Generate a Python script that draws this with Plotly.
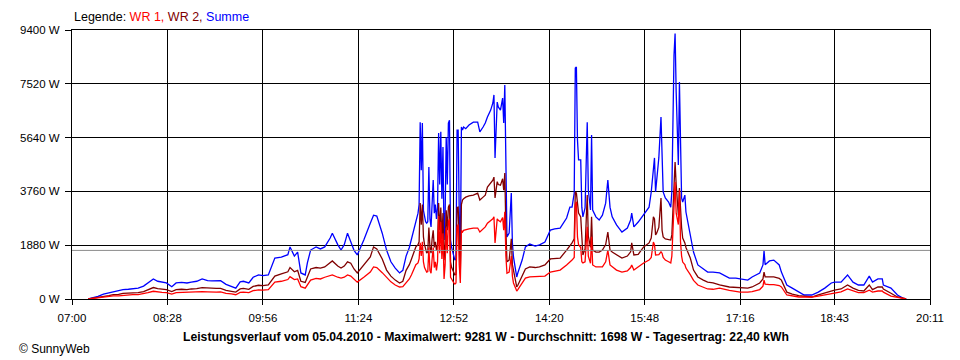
import plotly.graph_objects as go

DATE = "2010-04-05"

# ---- data ----
times = [
    "07:15","07:19","07:24","07:29","07:34","07:38","07:43","07:47","07:52","07:56",
    "08:01","08:06","08:10","08:15","08:19","08:23","08:27","08:32","08:36","08:41",
    "08:46","08:50","08:55","09:00","09:05","09:09","09:13","09:17","09:22","09:27",
    "09:31","09:35","09:38","09:43","09:47","09:52","09:56","10:01","10:07","10:13",
    "10:19","10:21","10:25","10:28","10:31","10:35","10:37","10:40","10:45","10:49",
    "10:53","10:58","11:00","11:05","11:08","11:11","11:14","11:17","11:20","11:23",
    "11:29","11:35","11:38","11:41","11:46","11:50","11:54","11:58","12:02","12:05",
    "12:08","12:11","12:13","12:15","12:17","12:19","12:20","12:21","12:22","12:23",
    "12:24","12:25","12:26","12:27","12:28","12:29","12:30","12:31","12:32","12:33",
    "12:34","12:35","12:36","12:37","12:38","12:39","12:40","12:41","12:42","12:43",
    "12:44","12:45","12:46","12:47","12:48","12:49","12:50","12:51","12:52","12:53",
    "12:54","12:55","12:56","12:57","12:58","12:59","13:00","13:01","13:03","13:06",
    "13:10","13:14","13:16","13:19","13:21","13:23","13:26","13:28","13:29","13:30",
    "13:32","13:33","13:35","13:37","13:38","13:39","13:40","13:41","13:43","13:45",
    "13:46","13:47","13:49","13:50","13:51","13:55","13:58","14:02","14:07","14:11",
    "14:16","14:21","14:25","14:30","14:36","14:39","14:41","14:43","14:44","14:45",
    "14:46","14:47","14:49","14:50","14:51","14:53","14:55","14:56","14:58","14:59",
    "15:00","15:03","15:06","15:09","15:12","15:14","15:16","15:18","15:22","15:27",
    "15:32","15:35","15:36","15:38","15:42","15:47","15:52","15:54","15:56","15:57",
    "15:58","15:59","16:01","16:03","16:04","16:05","16:07","16:10","16:12","16:13",
    "16:15","16:16","16:17","16:19","16:20","16:21","16:22","16:23","16:25","16:26",
    "16:30","16:33","16:37","16:42","16:46","16:51","16:57","17:06","17:12","17:16",
    "17:23","17:27","17:34","17:37","17:38","17:39","17:43","17:47","17:52","17:54",
    "17:59","18:04","18:10","18:15","18:22","18:28","18:34","18:40","18:43","18:49",
    "18:55","19:00","19:05","19:10","19:15","19:18","19:23","19:27","19:28","19:35",
    "19:41","19:46","19:49",
]

summe = [
    0,40,90,170,210,260,280,330,340,360,
    380,450,560,700,620,590,560,430,560,580,
    560,590,620,700,640,630,630,640,510,450,
    380,600,620,560,760,840,820,840,1430,1460,
    1550,1820,1500,1640,910,840,1260,1710,1820,1750,
    1820,2130,2300,1900,1710,1900,2300,2000,1700,1540,
    2060,2650,2930,2900,2300,1710,1300,1080,910,1000,
    1500,1800,2100,2400,2800,3000,3300,6180,4500,6150,
    3100,2900,2700,2650,2700,4610,2800,2520,3500,4160,
    3000,3300,2800,3210,5800,4000,5840,3500,5310,2060,
    3000,5660,4000,6150,6250,2060,1800,1600,1500,1360,
    1400,5900,5900,3000,1360,6010,5900,6010,5950,6080,
    6180,6180,5840,6010,6150,6360,6600,6850,7130,4930,
    6880,6710,6600,7020,6150,7480,3910,2170,2300,3700,
    1960,1470,1000,770,910,1360,1820,1920,1850,1890,
    1990,2410,2450,2480,2830,3210,3210,3700,8070,8110,
    5560,4860,4860,3210,2870,3180,6180,3810,3110,5730,
    3110,2870,2760,2930,3350,4160,3210,2870,2590,2340,
    2480,2760,3000,2520,2690,2930,3210,3740,4680,4930,
    3740,4090,4930,6360,4930,3740,3530,3390,3210,3740,
    8530,9281,7230,4680,7580,4680,3530,3390,3630,3040,
    2240,1640,1190,1050,940,940,910,730,730,700,
    660,770,910,1190,1680,1200,1330,1360,1190,940,
    490,380,240,140,140,240,380,560,590,590,
    840,590,490,490,800,590,700,700,490,380,
    140,30,0,
]

wr2 = [
    0,20,50,90,120,150,160,200,200,210,
    220,260,320,400,360,340,330,260,330,340,
    330,350,360,400,380,370,370,370,300,270,
    240,350,370,340,440,480,470,490,800,880,
    950,1100,950,1000,620,580,800,1050,1100,1080,
    1120,1250,1330,1150,1080,1150,1300,1250,1050,910,
    1200,1470,1820,1750,1400,1010,800,660,560,620,
    1000,1200,1400,1600,1820,1900,2000,3350,2600,3300,
    2170,1900,1700,1600,1650,2500,1800,1600,2100,2400,
    1800,2000,1700,1900,3350,2400,3200,2100,3000,1360,
    1900,3100,2400,3210,3300,1300,1100,1000,950,840,
    860,3200,3210,1800,900,3300,3460,3500,3560,3600,
    3630,3700,3460,3560,3630,3910,4050,4150,4260,3530,
    4100,4000,3980,4200,3800,4400,2400,1300,1360,2100,
    1200,1010,600,420,480,800,1050,1120,1100,1120,
    1190,1400,1420,1430,1710,1850,1960,2100,3740,3700,
    3350,3000,2870,2000,1540,1750,3630,2200,1800,2870,
    1710,1640,1640,1710,1900,2340,1710,1640,1540,1430,
    1500,1650,1960,1540,1560,1820,1960,2130,2870,2800,
    2240,2300,2500,3530,2400,2170,2100,2060,2060,2240,
    3980,4790,4000,2930,3880,2900,2500,2130,1960,1800,
    1430,1010,770,660,590,560,490,420,400,380,
    380,420,560,700,940,770,770,770,720,660,
    240,170,120,90,70,140,210,280,310,350,
    490,380,300,280,490,330,420,420,350,200,
    70,30,0,
]

wr1 = [
    0,20,40,70,90,110,110,130,140,150,
    150,180,220,270,240,230,220,170,220,230,
    220,230,240,260,250,240,240,250,200,180,
    150,230,240,220,290,320,310,330,590,620,
    680,780,680,700,430,380,500,660,720,700,
    760,800,840,760,730,760,840,800,700,590,
    760,940,1120,1100,920,770,600,490,420,430,
    560,700,850,1000,1200,1260,1400,1960,1500,2000,
    1300,1100,1000,940,960,1800,1000,900,1400,1800,
    1100,1300,1000,1300,2900,1600,2700,1400,2300,700,
    1200,2500,1600,2700,2800,760,700,600,560,520,
    560,2500,2600,1200,560,2400,2340,2400,2410,2450,
    2480,2480,2340,2430,2520,2650,2750,2800,2870,1960,
    2800,2750,2700,2850,2400,3050,1500,900,940,1500,
    800,560,380,280,330,540,730,770,780,790,
    800,940,970,1010,1190,1280,1360,1450,3300,3400,
    2170,1900,1800,1300,1260,1300,2520,1500,1250,2170,
    1190,1120,1120,1120,1300,1710,1190,1120,1010,940,
    980,1100,1190,1010,1120,1260,1360,1450,1990,1900,
    1540,1540,1550,1650,1600,1450,1360,1300,1260,1500,
    3000,4090,3000,2600,3800,2000,1500,1290,1200,1080,
    850,650,490,400,350,340,380,300,270,240,
    240,260,330,450,660,520,500,500,470,420,
    140,100,70,70,70,100,140,200,210,250,
    350,280,220,220,310,240,280,280,240,100,
    60,10,0,
]

average_w = 1698
tick_times = ["07:00","08:28","09:56","11:24","12:52","14:20","15:48","17:16","18:43","20:11"]
y_ticks = [0, 1880, 3760, 5640, 7520, 9400]
y_labels = [f"{v} W" for v in y_ticks]
caption = ("Leistungsverlauf vom 05.04.2010 - Maximalwert: 9281 W - "
           "Durchschnitt: 1698 W - Tagesertrag: 22,40 kWh")

# ---- figure ----
x = [f"{DATE} {t}" for t in times]
tickvals = [f"{DATE} {t}" for t in tick_times]

fig = go.Figure()
fig.add_trace(go.Scatter(x=x, y=summe, mode="lines", name="Summe",
                         line=dict(color="#0000FF", width=1.3)))
fig.add_trace(go.Scatter(x=x, y=wr2, mode="lines", name="WR 2",
                         line=dict(color="#800000", width=1.3)))
fig.add_trace(go.Scatter(x=x, y=wr1, mode="lines", name="WR 1",
                         line=dict(color="#FF0000", width=1.3)))

fig.add_shape(type="line", xref="paper", x0=0, x1=1, yref="y",
              y0=average_w, y1=average_w, line=dict(color="#8C8C8C", width=1),
              layer="above")

# page body has an 8px margin, so the figure is 8px smaller and shifted
fig.update_layout(
    width=952, height=352,
    margin=dict(l=53, r=30, t=22, b=61),
    paper_bgcolor="white", plot_bgcolor="white",
    showlegend=False, hovermode=False,
    font=dict(family="Liberation Sans, Arial, sans-serif", size=11.5, color="black"),
)
fig.update_xaxes(
    type="date", range=[f"{DATE} 07:00", f"{DATE} 20:11"],
    tickvals=tickvals, ticktext=tick_times,
    ticks="outside", ticklen=5, tickcolor="black", tickwidth=1,
    ticklabelstandoff=3,
    showgrid=True, gridcolor="black", gridwidth=1,
    showline=True, mirror=True, linecolor="black", linewidth=1,
    zeroline=False, fixedrange=True,
)
fig.update_yaxes(
    range=[0, 9400], tickvals=y_ticks, ticktext=y_labels,
    ticks="outside", ticklen=6, tickcolor="black", tickwidth=1,
    ticklabelstandoff=3,
    showgrid=True, gridcolor="black", gridwidth=1,
    showline=True, mirror=True, linecolor="black", linewidth=1,
    zeroline=False, fixedrange=True,
)

legend_text = ("Legende: <span style='color:#FF0000'>WR 1,</span> "
               "<span style='color:#800000'>WR 2,</span> "
               "<span style='color:#0000FF'>Summe</span>")
fig.add_annotation(text=legend_text, xref="paper", yref="paper",
                   x=0, y=1 + 13 / 269, xanchor="left", yanchor="middle",
                   showarrow=False, font=dict(size=12.5))
fig.add_annotation(text=f"<b>{caption}</b>", xref="paper", yref="paper",
                   x=(480 - 61) / 869, y=-38 / 269, xanchor="center", yanchor="middle",
                   showarrow=False, font=dict(size=12.2))
fig.add_annotation(text="© SunnyWeb", xref="paper", yref="paper",
                   x=(5 - 61) / 869, y=-50 / 269, xanchor="left", yanchor="middle",
                   showarrow=False, font=dict(size=12))

fig.write_html("out.html", config={"displayModeBar": False, "staticPlot": True})
